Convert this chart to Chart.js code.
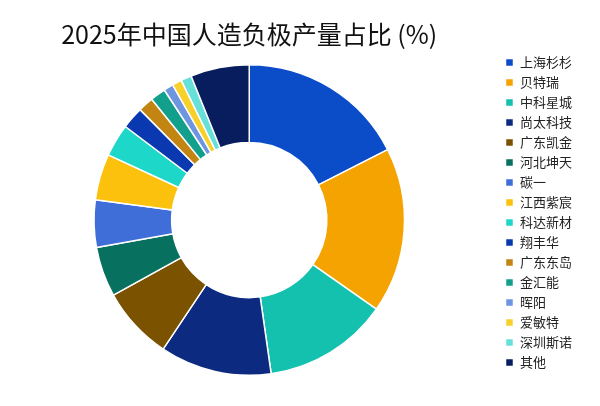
<!DOCTYPE html>
<html>
<head>
<meta charset="utf-8">
<script src="https://cdn.jsdelivr.net/npm/chart.js@4"></script>
<style>
  html, body { margin: 0; padding: 0; background: #ffffff; }
  #wrap { width: 600px; height: 406px; }
</style>
</head>
<body>
<div id="wrap"><canvas id="anodeChart"></canvas></div>
<script>
// 2025 artificial graphite anode output share (%)
const companies = ['上海杉杉', '贝特瑞', '中科星城', '尚太科技', '广东凯金', '河北坤天', '碳一', '江西紫宸',
    '科达新材', '翔丰华', '广东东岛', '金汇能', '晖阳', '爱敏特', '深圳斯诺', '其他'];
const shares = [17.5, 17.2, 13.0, 11.6, 7.6, 5.2, 4.9, 4.8, 3.4, 2.3, 1.6, 1.6, 1.0, 1.0, 1.1, 6.1];
const sliceColors = ['#0b4cc8', '#f5a300', '#14c0ae', '#0b2a80', '#7a5200', '#08705f', '#3f6ed8', '#fbc10c',
    '#1dd8c8', '#0a38b0', '#c28512', '#12a08c', '#6d95e0', '#f8d02a', '#66e0d8', '#081d5e'];

const FONT = "'Noto Sans CJK SC', 'Noto Sans', sans-serif";

const chart = new Chart(document.getElementById('anodeChart'), {
    type: 'doughnut',
    data: {
        labels: companies,
        datasets: [{
            data: shares,
            backgroundColor: sliceColors,
            borderColor: '#ffffff',
            borderWidth: 1.5
        }]
    },
    options: {
        responsive: true,
        maintainAspectRatio: false,
        animation: false,
        cutout: '50%',
        layout: {
            padding: { top: 4, bottom: 30, left: 0, right: 18 }
        },
        plugins: {
            title: {
                display: true,
                text: '2025年中国人造负极产量占比 (%)',
                fullSize: false,
                color: '#111111',
                font: { family: FONT, size: 25, weight: 'normal' },
                padding: { top: 15, bottom: 15 }
            },
            legend: {
                position: 'right',
                align: 'end',
                labels: {
                    boxWidth: 8,
                    boxHeight: 8,
                    padding: 7,
                    color: '#222222',
                    font: { family: FONT, size: 13 }
                }
            },
            tooltip: { enabled: false }
        }
    }
});
</script>
</body>
</html>
